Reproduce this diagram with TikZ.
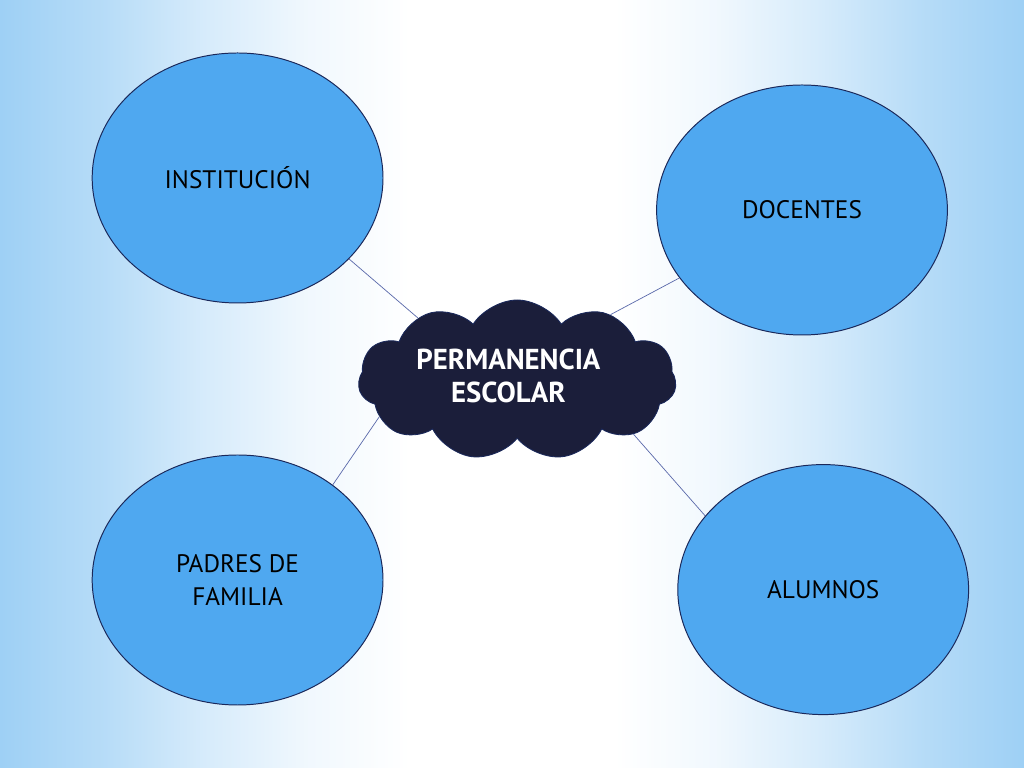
\documentclass[tikz,border=0pt]{standalone}
\usepackage{fontspec}
\setmainfont{PT Sans}
\usetikzlibrary{shapes.symbols, shapes.geometric, positioning, fadings}

\definecolor{bgblue}{RGB}{158,208,245}
\definecolor{ovalblue}{RGB}{79,168,240}
\definecolor{ovaledge}{RGB}{26,40,90}
\definecolor{cloudnavy}{RGB}{27,30,58}
\definecolor{linkblue}{RGB}{90,105,170}

\pgfdeclarehorizontalshading{slidebg}{100bp}{color(0bp)=(bgblue); color(25bp)=(bgblue); color(30bp)=(bgblue!75!white); color(35bp)=(bgblue!42!white); color(40bp)=(bgblue!15!white); color(45bp)=(white); color(55bp)=(white); color(60bp)=(bgblue!15!white); color(65bp)=(bgblue!42!white); color(70bp)=(bgblue!75!white); color(75bp)=(bgblue); color(100bp)=(bgblue)}
\tikzfading[name=bandfade, top color=transparent!100, middle color=transparent!40, bottom color=transparent!100]

\begin{document}
\begin{tikzpicture}[
    oval/.style={ellipse, draw=ovaledge, fill=ovalblue, line width=0.7pt,
        minimum width=7.27cm, minimum height=6.25cm, align=center,
        font=\fontsize{18}{23}\selectfont, text=black},
    link/.style={draw=linkblue, line width=0.5pt}
]
    % Background with padding
    \useasboundingbox (0,0) rectangle (25.6,19.2);
    \shade[shading=slidebg] (0,0) rectangle (25.6,19.2);
    \fill[bgblue, opacity=0.35, path fading=bandfade] (0,3.6) rectangle (25.6,6.6);

    % Central cloud
    \node[cloud, cloud puffs=11, cloud puff arc=115, cloud ignores aspect,
        draw=ovaledge, fill=cloudnavy, line width=0.6pt,
        minimum width=7.95cm, minimum height=4cm] (perm) at (12.93,9.7) {};
    \node[text=white, align=center, font=\fontsize{20.5}{24}\selectfont\bfseries]
        (permtext) at ([xshift=-0.22cm, yshift=0.1cm]perm.center) {PERMANENCIA\\ESCOLAR};

    % Four actors
    \node[oval] (inst) at (5.94,14.75) {INSTITUCIÓN};
    \node[oval] (doc) at (20.05,13.95) {DOCENTES};
    \node[oval] (padres) at (5.94,4.70) {PADRES DE\\FAMILIA};
    \node[oval] (alum) at (20.58,4.46) {ALUMNOS};

    % Links to the cloud
    \draw[link] (inst.-36) -- (perm.148);
    \draw[link] (doc.-151) -- (perm.35);
    \draw[link] (padres.45) -- (perm.195);
    \draw[link] (alum.148) -- (perm.-25);
\end{tikzpicture}
\end{document}
